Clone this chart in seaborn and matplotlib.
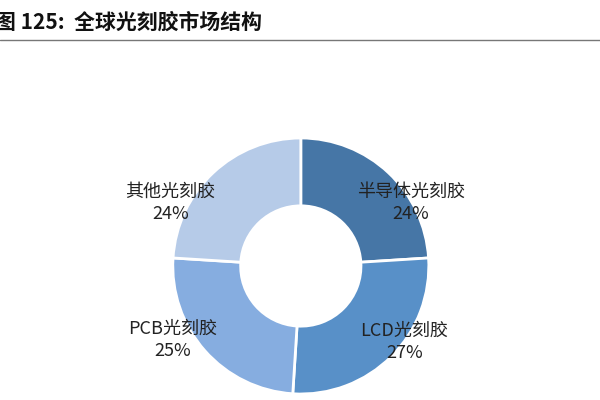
import matplotlib
matplotlib.use("Agg")
import matplotlib.pyplot as plt
import seaborn as sns

sns.set_theme(style="white")
plt.rcParams['font.family'] = ['Noto Sans CJK SC', 'DejaVu Sans']

categories = ["半导体光刻胶", "LCD光刻胶", "PCB光刻胶", "其他光刻胶"]
values = [24, 27, 25, 24]
colors = ["#4676a6", "#5890c8", "#86ade0", "#b6cbe8"]
label_pos = [(0.86, 0.49), (0.81, -0.59), (-1.0, -0.58), (-1.02, 0.49)]

fig = plt.figure(figsize=(6, 4), dpi=100)
ax = fig.add_axes([0.288, 0.015, 0.4267, 0.64])
ax.pie(values, colors=colors, startangle=90, counterclock=False, radius=1,
       wedgeprops=dict(width=0.53, edgecolor="white", linewidth=2))
ax.set_xlim(-1, 1); ax.set_ylim(-1, 1); ax.set_aspect("equal")
ax.axis("off")
for cat, v, (x, y) in zip(categories, values, label_pos):
    ax.text(x, y, f"{cat}\n{v}%", ha="center", va="center", fontsize=13,
            color="#222222", linespacing=1.3, clip_on=False)

fig.text(-0.008, 0.945, "图 125:  全球光刻胶市场结构", fontsize=15, fontweight="bold",
         ha="left", va="center", color="#111111")
fig.add_artist(plt.Line2D([0, 1], [0.9, 0.9], color="#777777", linewidth=1))
fig.savefig("out.png", dpi=100)
